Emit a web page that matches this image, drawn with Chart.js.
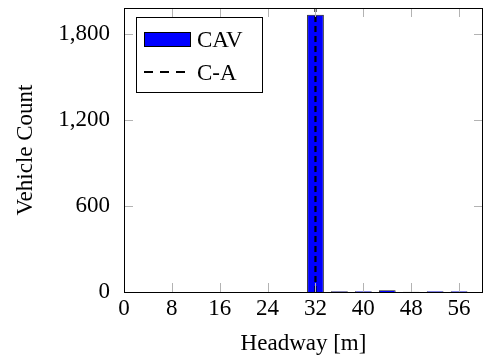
<!DOCTYPE html>
<html>
<head>
<meta charset="utf-8">
<script src="https://cdn.jsdelivr.net/npm/chart.js@4/dist/chart.umd.min.js"></script>
<style>
  html, body { margin: 0; padding: 0; background: #fff; }
  #wrap { width: 487px; height: 360px; position: relative; }
</style>
</head>
<body>
<div id="wrap"><canvas id="histChart"></canvas></div>
<script>
// histogram bins (headway, m) and counts
const binCenters = [32, 36, 40, 44, 48, 52, 56];
const cavCounts = [1935, 5, 6, 13, 1, 6, 6];
const caHeadway = 32; // dashed reference line
const xTicks = [0, 8, 16, 24, 32, 40, 48, 56];
const yTicks = [0, 600, 1200, 1800];
const xMax = 60;
const yMax = 1982;

const FONT = '"Liberation Serif", "Times New Roman", serif';
const FSIZE = 23;
Chart.defaults.font.family = FONT;
Chart.defaults.color = '#000';

// frame, inward ticks and boxed legend like pgfplots
const framePlugin = {
    id: 'frame',
    afterDatasetsDraw(chart) {
        const { ctx, chartArea: a, scales: { x, y } } = chart;
        ctx.save();
        ctx.strokeStyle = '#b3b3b3';
        ctx.lineWidth = 1;
        const len = 9;
        xTicks.forEach(v => {
            if (v === 0) return;
            const px = Math.round(x.getPixelForValue(v)) + 0.5;
            ctx.beginPath();
            ctx.moveTo(px, a.bottom); ctx.lineTo(px, a.bottom - len);
            ctx.moveTo(px, a.top); ctx.lineTo(px, a.top + len);
            ctx.stroke();
        });
        yTicks.forEach(v => {
            if (v === 0) return;
            const py = Math.round(y.getPixelForValue(v)) + 0.5;
            ctx.beginPath();
            ctx.moveTo(a.left, py); ctx.lineTo(a.left + len, py);
            ctx.moveTo(a.right, py); ctx.lineTo(a.right - len, py);
            ctx.stroke();
        });
        ctx.strokeStyle = '#000';
        ctx.strokeRect(a.left + 0.5, a.top + 0.5, a.right - a.left - 1, a.bottom - a.top);

        // legend box
        const lx = a.left + 12, ly = a.top + 9, lw = 126, lh = 75;
        ctx.fillStyle = '#fff';
        ctx.fillRect(lx, ly, lw, lh);
        ctx.strokeRect(lx + 0.5, ly + 0.5, lw, lh);
        ctx.fillStyle = '#0000ff';
        ctx.fillRect(lx + 8, ly + 15, 46, 14);
        ctx.strokeRect(lx + 8.5, ly + 15.5, 46, 14);
        ctx.beginPath();
        ctx.setLineDash([9, 7]);
        ctx.lineWidth = 2;
        ctx.moveTo(lx + 8, ly + 55); ctx.lineTo(lx + 54, ly + 55);
        ctx.stroke();
        ctx.setLineDash([]);
        ctx.fillStyle = '#000';
        ctx.font = FSIZE + 'px ' + FONT;
        ctx.textBaseline = 'alphabetic';
        ctx.fillText(chart.data.datasets[0].label, lx + 61, ly + 30);
        ctx.fillText(chart.data.datasets[1].label, lx + 61, ly + 63);
        ctx.restore();
    }
};

new Chart(document.getElementById('histChart'), {
    data: {
        datasets: [{
            type: 'bar',
            label: 'CAV',
            data: binCenters.map((c, i) => ({ x: c, y: cavCounts[i] })),
            backgroundColor: '#0000ff',
            borderColor: '#1a1a1a',
            borderWidth: 1,
            barPercentage: 0.7,
            categoryPercentage: 1,
            order: 2
        }, {
            type: 'line',
            label: 'C-A',
            data: [{ x: caHeadway, y: 0 }, { x: caHeadway, y: yMax }],
            borderColor: '#000',
            borderWidth: 2.2,
            borderDash: [6, 4],
            pointRadius: 0,
            fill: false,
            order: 1
        }]
    },
    options: {
        responsive: true, maintainAspectRatio: false,
        animation: false,
        layout: { padding: { top: 8, right: 4, left: 0, bottom: 0 } },
        plugins: { legend: { display: false }, tooltip: { enabled: false } },
        scales: {
            x: {
                type: 'linear', min: 0, max: xMax, offset: false,
                afterBuildTicks: s => { s.ticks = xTicks.map(v => ({ value: v })); },
                afterFit: s => { s.height = 68; s.paddingLeft = 0; s.paddingRight = 0; },
                grid: { display: false, drawTicks: false },
                border: { display: false },
                ticks: { font: { size: FSIZE }, maxRotation: 0, padding: 3, color: '#000' },
                title: { display: true, text: 'Headway [m]', font: { size: FSIZE }, padding: { top: 2, bottom: 2 }, color: '#000' }
            },
            y: {
                type: 'linear', min: 0, max: yMax,
                afterBuildTicks: s => { s.ticks = yTicks.map(v => ({ value: v })); },
                afterFit: s => { s.width = 124; s.paddingTop = 0; s.paddingBottom = 0; },
                grid: { display: false },
                border: { display: false },
                ticks: {
                    font: { size: FSIZE }, padding: 6, color: '#000',
                    callback: v => v.toLocaleString('en-US')
                },
                title: { display: true, text: 'Vehicle Count', font: { size: FSIZE }, padding: { top: 12, bottom: 0 }, color: '#000' }
            }
        }
    },
    plugins: [framePlugin]
});
</script>
</body>
</html>
